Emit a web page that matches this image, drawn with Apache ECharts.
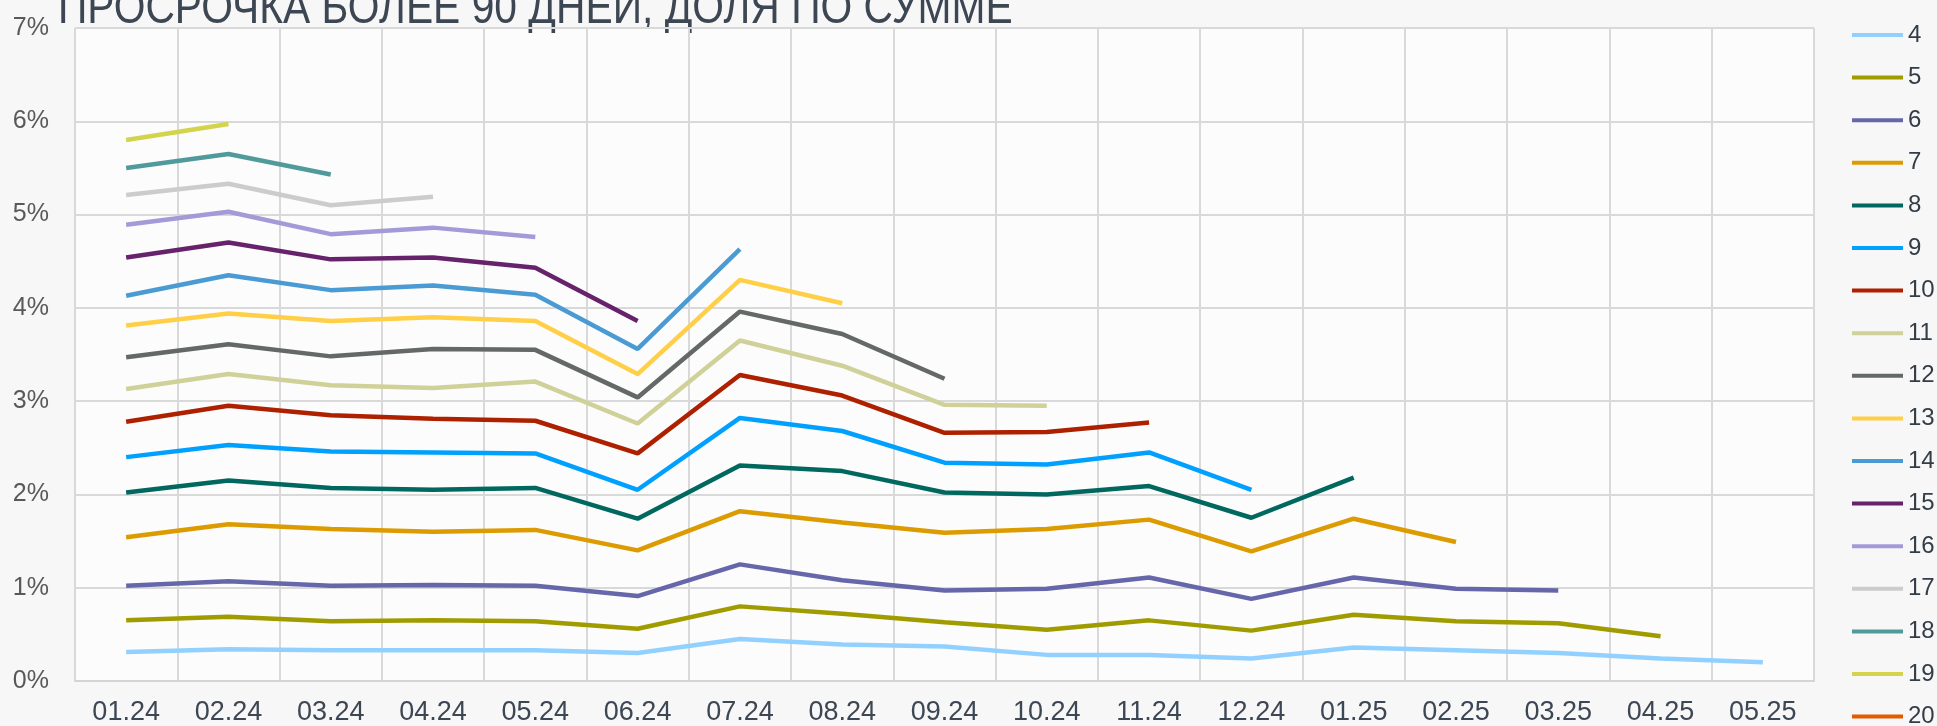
<!DOCTYPE html>
<html>
<head>
<meta charset="utf-8">
<script src="https://cdn.jsdelivr.net/npm/echarts@6/dist/echarts.min.js"></script>
<style>
  html, body { margin: 0; padding: 0; background: #f7f7f7; }
  #chart { width: 1937px; height: 726px; }
</style>
</head>
<body>
<div id="chart"></div>
<script>
// Months on the horizontal axis
const months = ['01.24','02.24','03.24','04.24','05.24','06.24','07.24','08.24','09.24',
                '10.24','11.24','12.24','01.25','02.25','03.25','04.25','05.25'];

// Overdue >90 days share by amount, %, one array per cohort
const s4  = [0.31, 0.34, 0.33, 0.33, 0.33, 0.30, 0.45, 0.39, 0.37, 0.28, 0.28, 0.24, 0.36, 0.33, 0.30, 0.24, 0.20];
const s5  = [0.65, 0.69, 0.64, 0.65, 0.64, 0.56, 0.80, 0.72, 0.63, 0.55, 0.65, 0.54, 0.71, 0.64, 0.62, 0.48];
const s6  = [1.02, 1.07, 1.02, 1.03, 1.02, 0.91, 1.25, 1.08, 0.97, 0.99, 1.11, 0.88, 1.11, 0.99, 0.97];
const s7  = [1.54, 1.68, 1.63, 1.60, 1.62, 1.40, 1.82, 1.70, 1.59, 1.63, 1.73, 1.39, 1.74, 1.49];
const s8  = [2.02, 2.15, 2.07, 2.05, 2.07, 1.74, 2.31, 2.25, 2.02, 2.00, 2.09, 1.75, 2.18];
const s9  = [2.40, 2.53, 2.46, 2.45, 2.44, 2.05, 2.82, 2.68, 2.34, 2.32, 2.45, 2.05];
const s10 = [2.78, 2.95, 2.85, 2.81, 2.79, 2.44, 3.28, 3.06, 2.66, 2.67, 2.77];
const s11 = [3.13, 3.29, 3.17, 3.14, 3.21, 2.76, 3.65, 3.38, 2.96, 2.95];
const s12 = [3.47, 3.61, 3.48, 3.56, 3.55, 3.04, 3.96, 3.72, 3.24];
const s13 = [3.81, 3.94, 3.86, 3.90, 3.86, 3.29, 4.30, 4.05];
const s14 = [4.13, 4.35, 4.19, 4.24, 4.14, 3.56, 4.63];
const s15 = [4.54, 4.70, 4.52, 4.54, 4.43, 3.86];
const s16 = [4.89, 5.03, 4.79, 4.86, 4.76];
const s17 = [5.21, 5.33, 5.10, 5.19];
const s18 = [5.50, 5.65, 5.43];
const s19 = [5.80, 5.97];
const s20 = [];

const seriesNames = ['4','5','6','7','8','9','10','11','12','13','14','15','16','17','18','19','20'];
const seriesData  = [s4, s5, s6, s7, s8, s9, s10, s11, s12, s13, s14, s15, s16, s17, s18, s19, s20];
const seriesColors = ['#92d1ff','#a09c00','#6666aa','#dc9b00','#00685f','#00a0ff','#ad2100','#cfd199',
                      '#646866','#ffcf48','#4a9ad3','#66226a','#a29bd8','#cccccc','#509a9c','#d4d34c','#e35b00'];

// Y axis tick settings
const yMin = 0, yMax = 7, yStep = 1;

const sans = "'Liberation Sans', Arial, sans-serif";

const chart = echarts.init(document.getElementById('chart'), null, { renderer: 'canvas' });

chart.setOption({
  backgroundColor: '#f7f7f7',
  animation: false,
  // Condensed headline: regular face squeezed horizontally
  graphic: [{
    type: 'text',
    x: 58,
    y: -14,
    scaleX: 0.85,
    style: {
      text: 'ПРОСРОЧКА БОЛЕЕ 90 ДНЕЙ, ДОЛЯ ПО СУММЕ',
      font: '48px ' + sans,
      fill: '#3d4653',
      align: 'left',
      verticalAlign: 'top'
    }
  }],
  grid: {
    left: 75, right: 123, top: 28, bottom: 45,
    show: true, backgroundColor: '#fcfcfc', borderWidth: 0
  },
  legend: {
    orient: 'vertical',
    left: 1847,
    top: 18,
    height: 760,
    itemWidth: 51,
    itemHeight: 4,
    itemGap: 18.6,
    icon: 'rect',
    textStyle: { fontFamily: sans, fontSize: 24, color: '#333d47' },
    data: seriesNames
  },
  xAxis: {
    type: 'category',
    data: months,
    boundaryGap: true,
    axisTick: { show: false },
    axisLine: { lineStyle: { color: '#d4d4d4', width: 2 } },
    splitLine: { show: true, lineStyle: { color: '#d9d9d9', width: 2 } },
    axisLabel: { fontFamily: sans, fontSize: 27, color: '#3d4653', margin: 18 }
  },
  yAxis: {
    type: 'value',
    min: yMin, max: yMax, interval: yStep,
    axisLine: { show: false },
    axisTick: { show: false },
    splitLine: { lineStyle: { color: '#d9d9d9', width: 2 } },
    axisLabel: { formatter: '{value}%', fontFamily: sans, fontSize: 25, color: '#595959', margin: 26 }
  },
  series: seriesNames.map((name, i) => ({
    name: name,
    type: 'line',
    data: seriesData[i],
    color: seriesColors[i],
    symbol: 'none',
    lineStyle: { width: 4.5 }
  }))
});
</script>
</body>
</html>
